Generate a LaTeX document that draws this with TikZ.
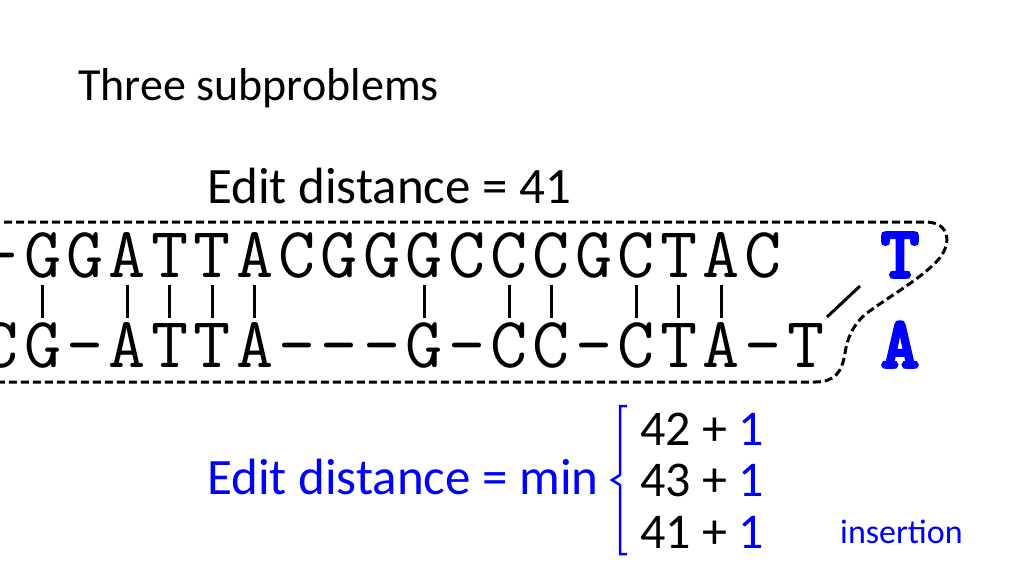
\documentclass[tikz,border=0pt]{standalone}
\usepackage{fontspec}
\setmainfont{Carlito}
\newfontfamily\bmono{lmmono10-regular}[Extension=.otf, FakeBold=5]
\usetikzlibrary{calc}
\definecolor{pblue}{RGB}{0,0,255}
\tikzset{
  txt/.style={inner sep=0pt, anchor=base west},
  seqch/.style={inner sep=0pt, anchor=base, font=\ttfamily\fontsize{72}{72}\selectfont},
  ext/.style={inner sep=0pt, anchor=base, text=pblue, font=\bmono\fontsize{72}{72}\selectfont},
  bar/.style={line width=3pt},
  border/.style={line width=3pt, dash pattern=on 8pt off 4pt},
  brace/.style={line width=2.5pt, draw=pblue},
}
\begin{document}
\begin{tikzpicture}[x=1pt,y=-1pt]
\useasboundingbox (0,0) rectangle (1024,576);
\clip (0,0) rectangle (1024,576);
\fill[white] (0,0) rectangle (1024,576);
% title
\node[txt, font=\fontsize{46}{46}\selectfont] (title) at (78,100) {Three subproblems};
\node[txt, font=\fontsize{51}{51}\selectfont] (ed) at (207,203) {Edit distance = 41};
% sequences (one node per column)
\foreach \ch [count=\i from 0] in {-,G,G,A,T,T,A,C,G,G,G,C,C,C,G,C,T,A,C}{
  \node[seqch] (t\i) at (42.7+42.4*\i-42.4,277) {\ch};
}
\foreach \ch [count=\i from 0] in {C,G,-,A,T,T,A,-,-,-,G,-,C,C,-,C,T,A,-,T}{
  \node[seqch] (b\i) at (42.7+42.4*\i-42.4,367) {\ch};
}
\node[ext] (T) at (900,277) {T};
\node[ext] (A) at (900,367) {A};
% match bars
\foreach \c in {0,2,3,4,5,9,11,12,14,15,16}{
  \coordinate (m\c t) at (42.7+42.4*\c,285);
  \coordinate (m\c b) at (42.7+42.4*\c,318);
  \draw[bar] (m\c t) -- (m\c b);
}
\coordinate (s1) at (827,317);
\coordinate (s2) at (860,286);
\draw[bar] (s1) -- (s2);
% dashed border
\draw[border] (-20,222) -- (925,222) .. controls (952,222) and (951,246) .. (938,260)
  .. controls (922,278) and (887,298) .. (867,313)
  .. controls (852,325) and (847,340) .. (845,353)
  .. controls (842,372) and (835,382) .. (815,382) -- (-20,382);
% bottom formula
\node[txt, text=pblue, font=\fontsize{51}{51}\selectfont] (min) at (207,494) {Edit distance = min};
\draw[brace] (627,406) -- (620,406) -- (620,475) -- (612,480) -- (620,485) -- (620,554) -- (627,554);
\node[txt, font=\fontsize{50}{50}\selectfont] (r1) at (640,445) {42 + \textcolor{pblue}{1}};
\node[txt, font=\fontsize{50}{50}\selectfont] (r2) at (640,496) {43 + \textcolor{pblue}{1}};
\node[txt, font=\fontsize{50}{50}\selectfont] (r3) at (640,548) {41 + \textcolor{pblue}{1}};
\node[txt, text=pblue, font=\fontsize{34}{34}\selectfont] (ins) at (840,543) {insertion};
\end{tikzpicture}
\end{document}
